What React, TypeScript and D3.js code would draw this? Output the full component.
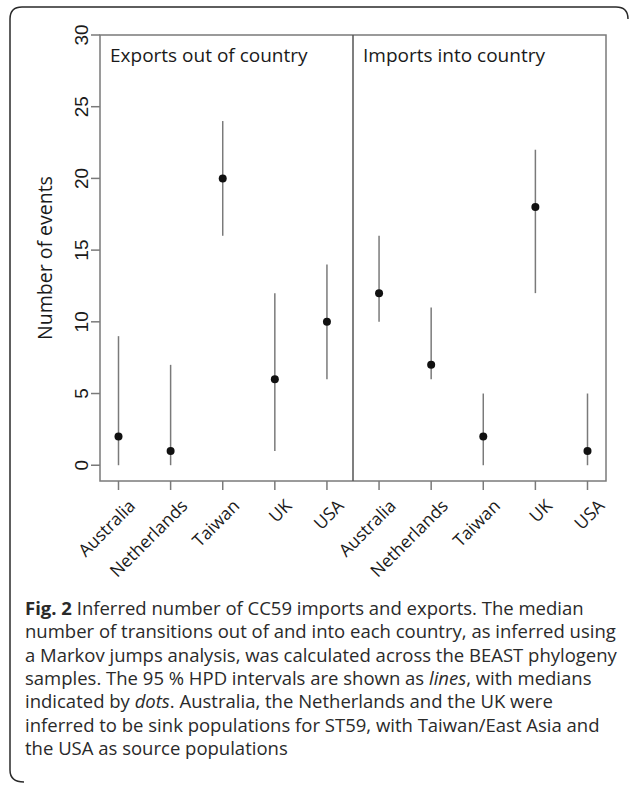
import React from "react";
import * as d3 from "d3";

const WIDTH = 629;
const HEIGHT = 786;

const countries = ["Australia", "Netherlands", "Taiwan", "UK", "USA"];
const panels = ["Exports out of country", "Imports into country"];

// medians and 95% HPD bounds
const exportMedian = [2, 1, 20, 6, 10];
const exportLower = [0, 0, 16, 1, 6];
const exportUpper = [9, 7, 24, 12, 14];
const importMedian = [12, 7, 2, 18, 1];
const importLower = [10, 6, 0, 12, 0];
const importUpper = [16, 11, 5, 22, 5];

const yTicks = [0, 5, 10, 15, 20, 25, 30];

const PLOT = { left: 100, right: 606, top: 35, bottom: 481 };
const GREY = "#7a7a7a";
const LABEL_FONT = "'Open Sans', sans-serif";

const rows = [
  ...countries.map((c, i) => ({ key: `exp-${c}`, country: c, med: exportMedian[i], lo: exportLower[i], hi: exportUpper[i] })),
  ...countries.map((c, i) => ({ key: `imp-${c}`, country: c, med: importMedian[i], lo: importLower[i], hi: importUpper[i] })),
];

// caption lines, [text, style] segments
const caption: [string, string][][] = [
  [["Fig. 2", "bold"], [" Inferred number of CC59 imports and exports. The median", ""]],
  [["number of transitions out of and into each country, as inferred using", ""]],
  [["a Markov jumps analysis, was calculated across the BEAST phylogeny", ""]],
  [["samples. The 95 % HPD intervals are shown as ", ""], ["lines", "italic"], [", with medians", ""]],
  [["indicated by ", ""], ["dots", "italic"], [". Australia, the Netherlands and the UK were", ""]],
  [["inferred to be sink populations for ST59, with Taiwan/East Asia and", ""]],
  [["the USA as source populations", ""]],
];

export default function App() {
  const xScale = d3.scalePoint<string>()
    .domain(rows.map(d => d.key))
    .range([PLOT.left, PLOT.right])
    .padding(0.355);

  const yScale = d3.scaleLinear()
    .domain([-1.1, 30])
    .range([PLOT.bottom, PLOT.top]);

  const divider = ((xScale(rows[4].key) as number) + (xScale(rows[5].key) as number)) / 2;

  return (
    <svg width={WIDTH} height={HEIGHT} style={{ position: "absolute", left: 0, top: 0, background: "#fff" }}>
      {/* outer figure frame */}
      <path d="M 24,782 Q 10,782 10,770 L 10,19 Q 10,7 22,7 L 616,7 Q 628,7 628,19"
        fill="none" stroke="#2a2a2a" strokeWidth={1.5} />

      {/* plot box and panel divider */}
      <rect x={PLOT.left} y={PLOT.top} width={PLOT.right - PLOT.left} height={PLOT.bottom - PLOT.top}
        fill="none" stroke={GREY} strokeWidth={1.5} />
      <line x1={divider} x2={divider} y1={PLOT.top} y2={PLOT.bottom} stroke="#555" strokeWidth={1.5} />

      {/* panel titles */}
      <text x={110} y={62} fontFamily={LABEL_FONT} fontSize={19} fill="#1a1a1a">{panels[0]}</text>
      <text x={363} y={62} fontFamily={LABEL_FONT} fontSize={19} fill="#1a1a1a">{panels[1]}</text>

      {/* y axis */}
      {yTicks.map(t => (
        <g key={t} transform={`translate(${PLOT.left},${yScale(t)})`}>
          <line x1={-9} x2={0} stroke={GREY} strokeWidth={1.5} />
          <text transform="translate(-12,0) rotate(-90)" textAnchor="middle"
            fontFamily="'Liberation Sans', Arial, sans-serif" fontSize={19} fill="#1a1a1a">{t}</text>
        </g>
      ))}
      <text transform={`translate(52,${(PLOT.top + PLOT.bottom) / 2}) rotate(-90)`} textAnchor="middle"
        fontFamily={LABEL_FONT} fontSize={19.5} fill="#1a1a1a">Number of events</text>

      {/* x axis */}
      {rows.map(d => {
        const x = xScale(d.key) as number;
        return (
          <g key={d.key}>
            <line x1={x} x2={x} y1={PLOT.bottom} y2={PLOT.bottom + 9} stroke={GREY} strokeWidth={1.5} />
            <text transform={`translate(${x + 18},${PLOT.bottom + 26}) rotate(-45)`} textAnchor="end"
              fontFamily={LABEL_FONT} fontSize={17.5} fill="#1a1a1a">{d.country}</text>
          </g>
        );
      })}

      {/* HPD intervals and medians */}
      {rows.map(d => {
        const x = xScale(d.key) as number;
        return (
          <g key={`m-${d.key}`}>
            <line x1={x} x2={x} y1={yScale(d.lo)} y2={yScale(d.hi)} stroke={GREY} strokeWidth={1.5} />
            <circle cx={x} cy={yScale(d.med)} r={4} fill="#111" />
          </g>
        );
      })}

      {/* caption */}
      <text fontFamily={LABEL_FONT} fontSize={18.5} fill="#2a2a2a">
        {caption.map((line, i) => (
          <tspan key={i} x={25} y={615 + i * 23.3}>
            {line.map(([s, style], j) => (
              <tspan key={j} fontWeight={style === "bold" ? "bold" : undefined}
                fontStyle={style === "italic" ? "italic" : undefined}>{s}</tspan>
            ))}
          </tspan>
        ))}
      </text>
    </svg>
  );
}
